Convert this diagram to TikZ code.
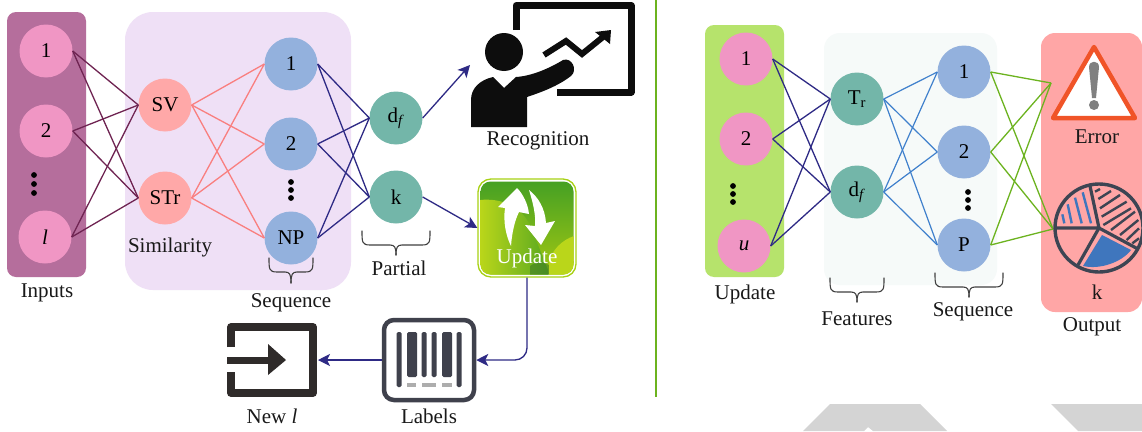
\documentclass[tikz,border=0pt]{standalone}
\usepackage{fontspec}
\setmainfont{Liberation Serif}
\usetikzlibrary{arrows.meta}
\definecolor{pinkc}{HTML}{F096C4}
\definecolor{bluec}{HTML}{93B1DD}
\definecolor{tealc}{HTML}{73B6A9}
\definecolor{salmonc}{HTML}{FFA8A8}
\definecolor{navyc}{HTML}{2E2A85}
\definecolor{plumc}{HTML}{6F2452}
\definecolor{edgesalmon}{HTML}{F97F7F}
\definecolor{edgeblue}{HTML}{3F80CC}
\definecolor{edgegreen}{HTML}{6CB31F}
\definecolor{darkslate}{HTML}{3F414C}
\definecolor{piedark}{HTML}{3D4553}
\definecolor{pieblue}{HTML}{3F76BD}
\definecolor{exitc}{HTML}{2F2B2A}
\definecolor{limec}{HTML}{BAD61A}
\definecolor{greenc}{HTML}{45A024}
\definecolor{midgreen}{HTML}{96C214}
\newcommand{\lbl}{\fontsize{21}{23}\selectfont}
\newcommand{\mkbrace}[4]{% x1 x2 ytop ytip
  \draw[bracestyle] (#1,#3) .. controls (#1,{#3+11}) and (#1,{#3+14}) .. ({#1+8},{#3+14})
    -- ({(#1+#2)/2-6},{#3+14}) .. controls ({(#1+#2)/2-1.5},{#3+14}) and ({(#1+#2)/2},{#3+16}) .. ({(#1+#2)/2},#4);
  \draw[bracestyle] (#2,#3) .. controls (#2,{#3+11}) and (#2,{#3+14}) .. ({#2-8},{#3+14})
    -- ({(#1+#2)/2+6},{#3+14}) .. controls ({(#1+#2)/2+1.5},{#3+14}) and ({(#1+#2)/2},{#3+16}) .. ({(#1+#2)/2},#4);
}
\newcommand{\vdotsat}[3]{\fill (#1,#2) circle (2.9) (#1,{(#2+#3)/2}) circle (2.9) (#1,#3) circle (2.9);}
\tikzset{
  x=1pt,y=-1pt,
  neuron/.style={circle,minimum size=53pt,inner sep=0pt,font=\lbl,text=black},
  inn/.style={neuron,fill=pinkc},
  seqn/.style={neuron,fill=bluec},
  feat/.style={neuron,fill=tealc},
  simn/.style={neuron,fill=salmonc},
  captext/.style={font=\lbl,text=black!90,inner sep=0pt},
  panel/.style={rounded corners=#1},
  bracestyle/.style={draw=black!75,line width=1.1pt,line cap=round},
  e1/.style={plumc,line width=1.3pt},
  e2/.style={edgesalmon,line width=1.3pt},
  e3/.style={navyc,line width=1.3pt},
  e4/.style={edgeblue,line width=1.2pt},
  e5/.style={edgegreen,line width=1.3pt},
  arr/.style={navyc,line width=1.3pt,-{Stealth[length=12pt,width=12pt,inset=3pt]}},
}
\begin{document}
\begin{tikzpicture}
\useasboundingbox (0,0) rectangle (1142,431);
\fill[white] (0,0) rectangle (1142,431);
% watermark shapes
\fill[black!17] (830,404) -- (920,404) -- (947,431) -- (873,431) -- (868,427) -- (864,431) -- (803,431) -- cycle;
\fill[black!17] (1051,404) -- (1142,404) -- (1142,431) -- (1078,431) -- cycle;
% panels
\fill[panel=9pt,color={rgb,255:red,181;green,110;blue,156}] (7,12) rectangle (86,277);
\fill[panel=28pt,color={rgb,255:red,239;green,224;blue,246}] (125,12) rectangle (351,290);
\fill[panel=9pt,color={rgb,255:red,182;green,227;blue,108}] (705,25) rectangle (784,277);
\fill[panel=16pt,color={rgb,255:red,246;green,250;blue,249}] (824,33) rectangle (997,285);
\fill[panel=14pt,color={rgb,255:red,255;green,166;blue,166}] (1041,33) rectangle (1142,312);
\draw[edgegreen,line width=1.3pt] (656,0) -- (656,397);
% left neurons
\node[inn] (a1) at (46,51) {1};
\node[inn] (a2) at (46,131) {2};
\node[inn] (a3) at (45,237) {\textit{l}};
\node[simn] (s1) at (165,105) {SV};
\node[simn] (s2) at (165,198) {STr};
\node[seqn] (q1) at (291,64) {1};
\node[seqn] (q2) at (291,144) {2};
\node[seqn] (q3) at (291,238) {NP};
\node[feat] (d1) at (396,118) {d\textsubscript{\textit{f}}};
\node[feat] (d2) at (396,197) {k};
\vdotsat{34}{175}{193}
\vdotsat{291}{182}{198}
\foreach \a in {a1,a2,a3} \foreach \b in {s1,s2} \draw[e1] (\a.east) -- (\b.west);
\foreach \a in {s1,s2} \foreach \b in {q1,q2,q3} \draw[e2] (\a.east) -- (\b.west);
\foreach \a in {q1,q2,q3} \foreach \b in {d1,d2} \draw[e3] (\a.east) -- (\b.west);
% recognition icon
\coordinate (reco) at (470,65);
\draw[black!95,line width=7pt,line join=round] (516,30) -- (516,5.5) -- (631,5.5) -- (631,92) -- (557,92);
\fill[black!95] (504,52) circle (19);
\fill[black!95] (471,127) -- (471,100) .. controls (471,88) and (480,80) .. (493,77) -- (504,88) -- (516,77)
  .. controls (532,76) and (550,68) .. (563,60) .. controls (572,57) and (578,70) .. (571,76)
  .. controls (558,86) and (542,92) .. (527,97) -- (527,127) -- cycle;
\draw[black!95,line width=6pt,line join=miter] (544,55) -- (566,41) -- (582,54) -- (603,37);
\fill[black!95] (595,32) -- (611,30) -- (610,44) -- cycle;
% update icon
\node[draw=edgegreen!60!yellow,line width=1.3pt,fill=white,rounded corners=13pt,minimum width=98pt,minimum height=98pt,inner sep=0pt] (upd) at (527,228) {};
\begin{scope}
  \clip[rounded corners=10pt] (480.5,181.5) rectangle (573.5,274.5);
  \shade[top color=greenc,bottom color=midgreen] (480,181) rectangle (574,262);
  \fill[midgreen] (480,261) rectangle (574,275);
  \begin{scope}
    \clip (480,200) .. controls (500,198) and (520,205) .. (530,225) -- (550,275) -- (480,275) -- cycle;
    \shade[left color=limec,right color=greenc!75!midgreen] (480,195) rectangle (548,275);
  \end{scope}
  \fill[greenc!70!black!95!white,opacity=0.55] (530,266) .. controls (538,260) and (546,262) .. (550,266) -- (549,275) -- (530,275) -- cycle;
  \fill[limec] (549,275) -- (549,262) .. controls (552,250) and (562,240) .. (574,236) -- (574,275) -- cycle;
\end{scope}
\fill[white] (517,188) -- (498,207) -- (505,208) .. controls (503,222) and (506,236) .. (511,246)
  .. controls (512,232) and (515,220) .. (519,212) -- (529,214) .. controls (528,204) and (523,194) .. (517,188) -- cycle;
\fill[white] (541,245) -- (555,221) -- (546,223) .. controls (545,208) and (538,197) .. (529,190)
  .. controls (533,203) and (536,215) .. (535,226) -- (525,225) -- cycle;
\node[font=\lbl,text=white,inner sep=0pt] (updt) at (527,258) {Update};
% labels icon
\node[draw=darkslate,line width=4.5pt,rounded corners=10pt,minimum width=90pt,minimum height=80pt,inner sep=0pt] (lab) at (429,360) {};
\foreach \x/\w/\yb in {399/5/387,412/10/377,424/5/377,434/5/377,447/10/377,459/5/387}
  \fill[darkslate,rounded corners=1.5pt] ({\x-\w/2},332) rectangle ({\x+\w/2},\yb);
\foreach \xa/\xb in {407/416,422/436,442/452}
  \fill[black!32] (\xa,383) rectangle (\xb,387);
% new l icon
\coordinate (newl) at (318,360);
\draw[exitc,line width=7.5pt,line join=round] (231,347) -- (231,327) -- (313,327) -- (313,393) -- (231,393) -- (231,372);
\fill[exitc] (227,356.5) rectangle (269,364);
\fill[exitc] (268,344) -- (286,360) -- (268,375) -- cycle;
% arrows
\draw[arr] (d1.east) -- (reco);
\draw[arr] (d2.east) -- (upd.west |- 0,228);
\draw[arr,rounded corners=12pt] (upd.south) -- (upd.south |- lab.east) -- (lab.east);
\draw[arr] (lab.west) -- (newl);
% left texts
\node[captext] at (47,293) {Inputs};
\node[captext] at (170,247) {Similarity};
\node[captext] at (291,303) {Sequence};
\node[captext] at (399,268) {Partial};
\node[captext] at (538,141) {Recognition};
\node[captext] at (429,416) {Labels};
\node[captext] at (272,416) {New \textit{l}};
\mkbrace{269}{313}{258}{283}
\mkbrace{362}{430}{231}{255}
% right neurons
\node[inn] (b1) at (746,59) {1};
\node[inn] (b2) at (746,139) {2};
\node[inn] (b3) at (744,246) {\textit{u}};
\node[feat] (f1) at (857,99) {T\textsubscript{r}};
\node[feat] (f2) at (857,192) {d\textsubscript{\textit{f}}};
\node[seqn] (p1) at (964,72) {1};
\node[seqn] (p2) at (964,152) {2};
\node[seqn] (p3) at (964,245) {P};
\vdotsat{733}{186}{202}
\vdotsat{968}{192}{208}
\coordinate (err) at (1051,83);
\coordinate (pie) at (1053,229);
\foreach \a in {b1,b2,b3} \foreach \b in {f1,f2} \draw[e3] (\a.east) -- (\b.west);
\foreach \a in {f1,f2} \foreach \b in {p1,p2,p3} \draw[e4] (\a.east) -- (\b.west);
\foreach \a in {p1,p2,p3} \foreach \b in {err,pie} \draw[e5] (\a.east) -- (\b);
% error icon
\fill[white] (1094,47) -- (1135,118) -- (1053,118) -- cycle;
\draw[color={rgb,255:red,240;green,84;blue,40},line width=4.5pt,line join=round] (1094,47) -- (1135,118) -- (1053,118) -- cycle;
\fill[black!50] (1089,67) .. controls (1089,60) and (1099,60) .. (1099,67) -- (1096,98) -- (1092,98) -- cycle;
\fill[black!50] (1094,105) circle (5);
% pie icon
\fill[pieblue] (1102,235) -- (1131,250) .. controls (1122,262) and (1100,270) .. (1083,266) -- cycle;
\foreach \xa/\ya/\xb/\yb in {58/145/52/118,80/145/68/88,110/145/90/68,138/145/113/52}
  \draw[pieblue,line width=2.4pt] ({1045+\xa/3},{175+\ya/3}) -- ({1045+\xb/3},{175+\yb/3});
\foreach \xa/\ya/\xb/\yb in {150/50/165/42,160/72/198/48,165/100/225/60,170/125/245/80,175/150/258/100,198/165/270/110,225/180/280/135,245/195/282/160,262/205/282/190}
  \draw[piedark,line width=2.4pt] ({1045+\xa/3},{175+\ya/3}) -- ({1045+\xb/3},{175+\yb/3});
\draw[piedark,line width=3.4pt] (1099,228) circle (44);
\draw[piedark,line width=3.2pt] (1055,228) -- (1099,228) -- (1090,186);
\draw[piedark,line width=3.2pt] (1099,228) -- (1138,249);
\draw[piedark,line width=3.2pt] (1099,228) -- (1078,265);
% right texts
\node[captext] at (745,294) {Update};
\node[captext] at (857,319) {Features};
\node[captext] at (973,312) {Sequence};
\node[captext] at (1097,137) {Error};
\node[captext] at (1097,292) {k};
\node[captext] at (1092,327) {Output};
\mkbrace{830}{884}{278}{302}
\mkbrace{935}{1003}{273}{297}
\end{tikzpicture}
\end{document}
